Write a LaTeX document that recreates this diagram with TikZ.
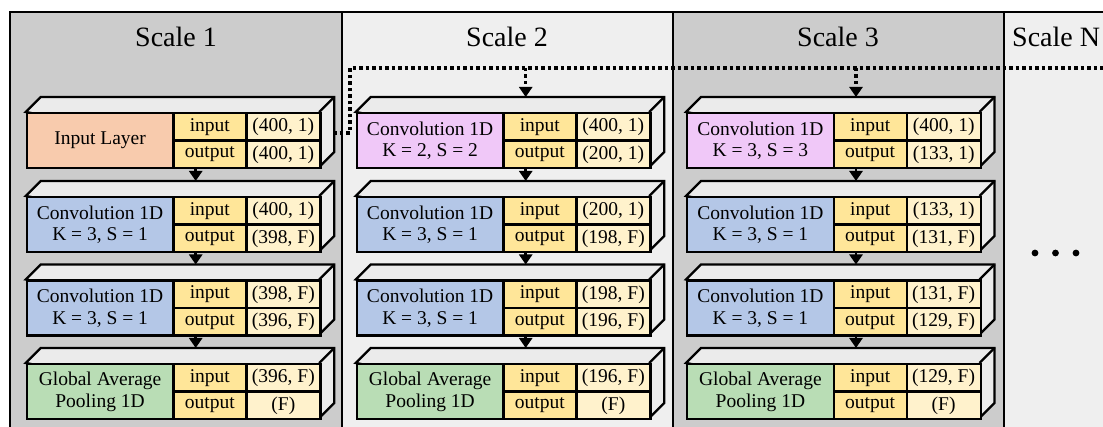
\documentclass[tikz,border=0pt]{standalone}
\usepackage{fontspec}
\setmainfont{Liberation Serif}
\usetikzlibrary{arrows.meta}
\definecolor{pgray}{HTML}{CCCCCC}
\definecolor{plight}{HTML}{EFEFEF}
\definecolor{facec}{HTML}{EBEBEB}
\definecolor{inpc}{HTML}{F8CBAD}
\definecolor{convc}{HTML}{B4C7E7}
\definecolor{downc}{HTML}{F0C8F8}
\definecolor{gapc}{HTML}{B9DDB5}
\definecolor{lblc}{HTML}{FFE699}
\definecolor{valc}{HTML}{FFF2CC}
\tikzset{
  panel/.style={draw=black, line width=1.8pt},
  face/.style={draw=black, fill=facec, line width=2.3pt, line join=miter},
  cell/.style={draw=black, line width=2.3pt, inner sep=0pt, anchor=north west,
    font=\fontsize{19.5}{21.5}\selectfont, align=center},
  namecell/.style={cell, minimum width=146.5pt, minimum height=55pt},
  lblcell/.style={cell, fill=lblc, minimum width=73pt, minimum height=27.5pt},
  valcell/.style={cell, fill=valc, minimum width=74pt, minimum height=27.5pt},
  title/.style={font=\fontsize{28}{30}\selectfont, inner sep=0pt},
  flow/.style={line width=2.5pt, -{Triangle[width=13pt,length=10pt]}},
  dotflow/.style={line width=3.5pt, dash pattern=on 3.5pt off 3pt, -{Triangle[width=13pt,length=10pt]}},
  dotline/.style={line width=3.5pt, dash pattern=on 3.5pt off 3pt},
}
% #1 id, #2 x, #3 y, #4 fill, #5 name, #6 in, #7 out
\newcommand\drawlayer[7]{%
  \draw[face] (#2,#3) -- ++(15,-15) -- ++(293.5,0) -- ++(0,55) -- ++(-15,15) -- cycle;
  \draw[face] ({#2+293.5},#3) -- ++(15,-15);
  \node[namecell, fill=#4] (#1n) at (#2,#3) {#5};
  \node[lblcell] (#1i) at ({#2+146.5},#3) {input};
  \node[lblcell] (#1o) at ({#2+146.5},{#3+27.5}) {output};
  \node[valcell] (#1a) at ({#2+219.5},#3) {#6};
  \node[valcell] (#1b) at ({#2+219.5},{#3+27.5}) {#7};
  \coordinate (#1top) at ({#2+170},{#3-15});
}
\begin{document}
\begin{tikzpicture}[x=1pt,y=-1pt]
\useasboundingbox (0,0) rectangle (1103,427);
\clip (0,0) rectangle (1103,427);
% panels
\draw[panel, fill=pgray] (10,12) rectangle (342,440);
\draw[panel, fill=plight] (342,12) rectangle (673,440);
\draw[panel, fill=pgray] (673,12) rectangle (1004,440);
\draw[panel, fill=plight] (1004,12) rectangle (1120,440);
\node[title] (t1) at (176,37) {Scale 1};
\node[title] (t2) at (507,37) {Scale 2};
\node[title] (t3) at (838,37) {Scale 3};
\node[title, anchor=west] (tn) at (1012,37) {Scale N};
% scale 1
\drawlayer{a1}{25.7}{112}{inpc}{Input Layer}{(400, 1)}{(400, 1)}
\drawlayer{a2}{25.7}{196}{convc}{Convolution 1D\\K = 3, S = 1}{(400, 1)}{(398, F)}
\drawlayer{a3}{25.7}{279.5}{convc}{Convolution 1D\\K = 3, S = 1}{(398, F)}{(396, F)}
\drawlayer{a4}{25.7}{363}{gapc}{Global Average\\Pooling 1D}{(396, F)}{(F)}
% scale 2
\drawlayer{b1}{355.7}{112}{downc}{Convolution 1D\\K = 2, S = 2}{(400, 1)}{(200, 1)}
\drawlayer{b2}{355.7}{196}{convc}{Convolution 1D\\K = 3, S = 1}{(200, 1)}{(198, F)}
\drawlayer{b3}{355.7}{279.5}{convc}{Convolution 1D\\K = 3, S = 1}{(198, F)}{(196, F)}
\drawlayer{b4}{355.7}{363}{gapc}{Global Average\\Pooling 1D}{(196, F)}{(F)}
% scale 3
\drawlayer{c1}{686}{112}{downc}{Convolution 1D\\K = 3, S = 3}{(400, 1)}{(133, 1)}
\drawlayer{c2}{686}{196}{convc}{Convolution 1D\\K = 3, S = 1}{(133, 1)}{(131, F)}
\drawlayer{c3}{686}{279.5}{convc}{Convolution 1D\\K = 3, S = 1}{(131, F)}{(129, F)}
\drawlayer{c4}{686}{363}{gapc}{Global Average\\Pooling 1D}{(129, F)}{(F)}
% solid arrows
\foreach \s in {a,b,c}{
  \draw[flow] (\s1top |- \s1o.south) -- (\s2top);
  \draw[flow] (\s2top |- \s2o.south) -- (\s3top);
  \draw[flow] (\s3top |- \s3o.south) -- (\s4top);
}
% dotted skip connections
\coordinate (d0) at (333,133);
\coordinate (d1) at (350,133);
\coordinate (d2) at (350,68);
\coordinate (dend) at (1110,68);
\draw[dotline] (d0) -- (d1) -- (d2) -- (dend);
\draw[dotflow] (b1top |- d2) -- (b1top);
\draw[dotflow] (c1top |- d2) -- (c1top);
% ellipsis
\fill (1035,253) circle (3.4) (1055.5,253) circle (3.4) (1076,253) circle (3.4);
\node[inner sep=0pt] (ell) at (1055.5,253) {};
\end{tikzpicture}
\end{document}
